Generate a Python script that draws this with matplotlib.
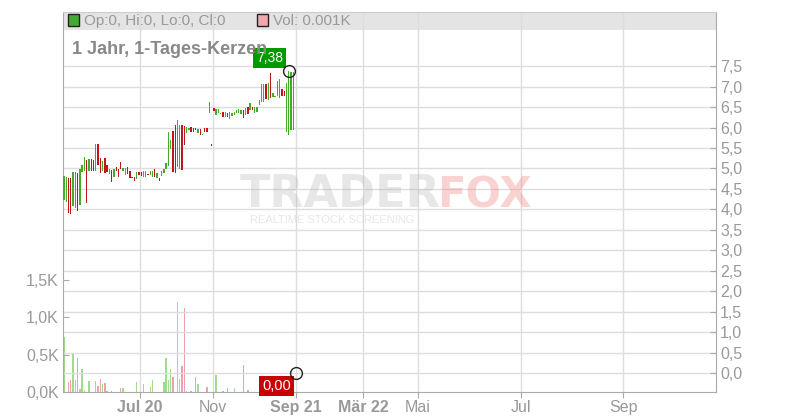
import numpy as np
import matplotlib.pyplot as plt
from matplotlib.patches import Rectangle
from matplotlib.ticker import FuncFormatter

plt.rcParams['font.family'] = ['Liberation Sans', 'DejaVu Sans']

# daily candles (open / close), oldest first
opens = [4.23, 4.19, 4.76, 4.76, 4.08, 4.03, 4.90, 4.11, 4.92, 4.95,
         5.21, 4.95, 5.22, 5.21, 4.95, 5.60, 5.25, 4.95, 5.25, 5.09,
         4.87, 4.96, 4.78, 5.03, 4.98, 5.17, 4.95, 4.84, 5.03, 4.95,
         4.80, 4.80, 4.74, 4.92, 4.92, 4.80, 4.80, 4.86, 4.84, 4.80,
         4.98, 4.76, 4.76, 4.82, 4.89, 4.99, 5.05, 5.47, 5.92, 6.06,
         5.03, 4.98, 6.06, 6.04, 5.86, 5.95, 6.01, 5.99, 5.99, 5.86,
         5.96, 5.82, 5.99, 5.98, 6.36, 5.58, 6.47, 6.31, 6.35, 6.33,
         6.37, 6.27, 6.35, 6.20, 6.29, 6.31, 6.35, 6.35, 6.33, 6.43,
         6.31, 6.51, 6.43, 6.51, 6.35, 6.39, 6.55, 6.63, 6.63, 7.07,
         6.67, 7.33, 6.76, 6.74, 6.78, 6.72, 6.94, 6.90, 5.88, 5.82,
         5.94, 5.94]
closes = [4.82, 4.80, 3.90, 3.89, 4.92, 4.92, 3.97, 4.98, 5.09, 5.27,
          4.16, 5.22, 4.95, 4.95, 5.60, 5.09, 4.88, 5.19, 4.88, 4.92,
          4.98, 4.68, 4.98, 4.95, 4.80, 4.98, 5.00, 5.00, 4.87, 4.76,
          4.76, 4.70, 4.92, 4.84, 4.82, 4.95, 4.94, 4.84, 4.93, 4.95,
          4.78, 4.88, 4.70, 4.94, 4.99, 5.13, 5.90, 5.70, 4.91, 4.90,
          6.19, 6.06, 4.96, 5.57, 6.01, 5.97, 5.88, 5.90, 5.93, 5.96,
          5.81, 5.85, 5.88, 5.88, 6.63, 5.56, 6.41, 6.45, 6.45, 6.35,
          6.27, 6.37, 6.25, 6.37, 6.35, 6.39, 6.43, 6.45, 6.43, 6.23,
          6.47, 6.33, 6.59, 6.43, 6.51, 6.51, 6.67, 7.07, 7.07, 6.69,
          7.09, 6.72, 6.85, 6.76, 7.14, 7.20, 6.77, 6.77, 7.10, 7.38,
          7.37, 7.37]
# volume in thousands
volumes = [0.74, 0, 0.14, 0.16, 0.52, 0.16, 0.45, 0.04, 0.31, 0.03,
           0, 0.15, 0, 0, 0.15, 0.08, 0.18, 0.11, 0.12, 0.02,
           0, 0.02, 0, 0, 0, 0.05, 0.05, 0, 0, 0,
           0, 0, 0.13, 0, 0, 0.11, 0, 0, 0.07, 0.16,
           0, 0, 0, 0, 0.13, 0.45, 0.16, 0.31, 0.20, 0,
           1.20, 0.17, 0.35, 1.12, 0.02, 0, 0.02, 0, 0.20, 0.11,
           0, 0, 0, 0.07, 0, 0, 0, 0.23, 0, 0,
           0.01, 0, 0.05, 0, 0, 0.05, 0, 0, 0, 0.36,
           0, 0.03, 0, 0, 0, 0, 0, 0, 0, 0,
           0, 0, 0, 0, 0, 0.21, 0, 0, 0, 0,
           0, 0]
indicator_last = 0.0

x_ticks = [33.5, 65.6, 102.2, 131.7, 155.9, 201.3, 246.3]
x_labels = ['Jul 20', 'Nov', 'Sep 21', 'Mär 22', 'Mai', 'Jul', 'Sep']
x_bold = [True, False, True, True, False, False, False]
price_ticks = np.arange(0, 7.51, 0.5)
vol_ticks = [0, 0.5, 1.0, 1.5]

W, H = 800, 420
fig = plt.figure(figsize=(8, 4.2), dpi=100)
L, R, B, T = 63, 716, 392, 12
ax = fig.add_axes([L / W, 1 - B / H, (R - L) / W, (B - T) / H])
axv = ax.twinx()
ax.set_zorder(axv.get_zorder() + 1)
ax.patch.set_visible(False)

o = np.array(opens)
c = np.array(closes)
idx = np.arange(len(o))
up = c >= o

# volume (left scale)
vcol = np.where(up, '#9fdc8f', '#f0a0aa')
axv.bar(idx, volumes, width=0.6, color=vcol, lw=0)
axv.set_ylim(0, 5.067)
axv.yaxis.tick_left()
axv.set_yticks(vol_ticks)
axv.yaxis.set_major_formatter(FuncFormatter(lambda v, p: f'{v:.1f}K'.replace('.', ',')))
axv.tick_params(axis='y', direction='in', length=4, color='#aaaaaa',
                labelcolor='#999999', labelsize=11.5, pad=3)
for s in axv.spines.values():
    s.set_visible(False)

# candles (right scale)
ccol = np.where(up, '#45ab2a', '#c0151c')
ax.bar(idx, np.maximum(np.abs(c - o), 0.03), bottom=np.minimum(o, c),
       width=0.6, color=ccol, lw=0, zorder=3)

ax.set_xlim(-0.44, 287.2)
ax.set_ylim(-0.4645, 8.826)
ax.yaxis.tick_right()
ax.set_yticks(price_ticks)
ax.yaxis.set_major_formatter(FuncFormatter(lambda v, p: f'{v:.1f}'.replace('.', ',')))
ax.tick_params(axis='y', direction='in', length=4, color='#aaaaaa',
               labelcolor='#999999', labelsize=11.5, pad=3)
ax.set_xticks(x_ticks)
ax.set_xticklabels(x_labels)
for lab, b in zip(ax.get_xticklabels(), x_bold):
    lab.set_fontweight('bold' if b else 'normal')
ax.tick_params(axis='x', direction='out', length=4, color='#aaaaaa',
               labelcolor='#999999', labelsize=11.5, pad=2)
ax.grid(True, color='#dddddd', lw=1)
ax.set_axisbelow(True)
for name, s in ax.spines.items():
    s.set_color('#cccccc' if name == 'top' else '#aaaaaa')

# header band
ax.add_patch(Rectangle((0, 1 - 18 / 380), 1, 18 / 380, transform=ax.transAxes,
                       fc='#e4e4e4', ec='none', zorder=0.3))
fig.add_artist(Rectangle((68 / W, 1 - 26 / H), 11 / W, 12 / H, transform=fig.transFigure,
                         fc='#44aa33', ec='#222222', lw=1, zorder=10))
fig.text(84 / W, 1 - 21 / H, 'Op:0, Hi:0, Lo:0, Cl:0', va='center', ha='left',
         fontsize=11, color='#999999', zorder=10)
fig.add_artist(Rectangle((257 / W, 1 - 26 / H), 11 / W, 12 / H, transform=fig.transFigure,
                         fc='#eea8b0', ec='#222222', lw=1, zorder=10))
fig.text(273 / W, 1 - 21 / H, 'Vol: 0.001K', va='center', ha='left',
         fontsize=11, color='#999999', zorder=10)
fig.text(72 / W, 1 - 50 / H, '1 Jahr, 1-Tages-Kerzen', va='center', ha='left',
         fontsize=13, fontweight='bold', color='#888888')

# watermark
fig.text(240 / W, 1 - 207 / H, 'TRADER', fontsize=32, fontweight='bold',
         family='DejaVu Sans', color='#b0b0b0', alpha=0.3, va='baseline', ha='left')
fig.text(437 / W, 1 - 207 / H, 'FOX', fontsize=30, fontweight='bold',
         family='DejaVu Sans', color='#f08080', alpha=0.35, va='baseline', ha='left')
fig.text(250 / W, 1 - 223 / H, 'REALTIME STOCK SCREENING', fontsize=8,
         color='#b0b0b0', alpha=0.3, va='baseline', ha='left')

# last price markers
last = int(np.argmax(c))
ax.plot(last, c[last], 'o', ms=8.5, mfc='none', mec='#222222', mew=1, zorder=7)
ax.annotate(f'{c[last]:.2f}'.replace('.', ','), xy=(last, c[last]), xytext=(-19, 13),
            textcoords='offset pixels', ha='center', va='center', color='white',
            fontsize=10, zorder=6,
            bbox=dict(boxstyle='square,pad=0.2', fc='#009900', ec='none'))
ax.plot(len(c), indicator_last, 'o', ms=8.5, mfc='none', mec='#222222', mew=1, zorder=7)
ax.annotate(f'{indicator_last:.2f}'.replace('.', ','), xy=(len(c), indicator_last),
            xytext=(-19, -13), textcoords='offset pixels', ha='center', va='center',
            color='white', fontsize=10.5, zorder=6,
            bbox=dict(boxstyle='square,pad=0.2', fc='#cc0000', ec='none'))

fig.savefig('out.png', dpi=100)
